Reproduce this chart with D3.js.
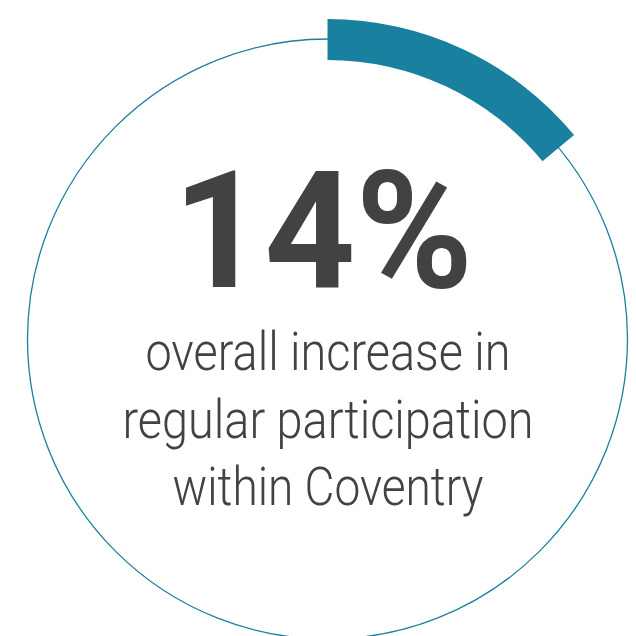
<!DOCTYPE html>
<html>
<head>
<meta charset="utf-8">
<script src="https://cdn.jsdelivr.net/npm/d3@7"></script>
<style>
  html, body { margin: 0; padding: 0; background: #ffffff; }
  svg { display: block; }
</style>
</head>
<body>
<div id="chart"></div>
<script>
// Headline figure and its caption
const percentValue = 14;
const percentLabel = "14%";
const captionLines = ["overall increase in", "regular participation", "within Coventry"];
const captionWidths = [365, 411, 311];

const width = 636, height = 636;
const cx = 327.5, cy = 339;
const ringRadius = 300;
const bandInner = 279, bandOuter = 320;
const teal = "#1a80a0";
const textColor = "#424242";

const svg = d3.select("#chart").append("svg")
  .attr("width", width)
  .attr("height", height);

const g = svg.append("g").attr("transform", `translate(${cx},${cy})`);

// Percentage -> angle around the ring, starting at 12 o'clock
const angle = d3.scaleLinear().domain([0, 100]).range([0, 2 * Math.PI]);

// Thin full ring
g.append("circle")
  .attr("r", ringRadius)
  .attr("fill", "none")
  .attr("stroke", teal)
  .attr("stroke-width", 1.3);

// Thick progress band
const arc = d3.arc()
  .innerRadius(bandInner)
  .outerRadius(bandOuter)
  .startAngle(angle(0))
  .endAngle(angle(percentValue));

g.append("path")
  .attr("d", arc())
  .attr("fill", teal);

// Big number
svg.append("text")
  .attr("x", 323)
  .attr("y", 287)
  .attr("text-anchor", "middle")
  .attr("font-family", "Roboto, 'Liberation Sans Narrow', sans-serif")
  .attr("font-weight", 700)
  .attr("font-size", 164)
  .attr("textLength", 300)
  .attr("lengthAdjust", "spacingAndGlyphs")
  .attr("fill", textColor)
  .text(percentLabel);

// Caption lines
const baselines = [370, 437.5, 505];
svg.selectAll("text.caption")
  .data(captionLines)
  .join("text")
  .attr("class", "caption")
  .attr("x", 328)
  .attr("y", (d, i) => baselines[i])
  .attr("text-anchor", "middle")
  .attr("font-family", "Roboto, sans-serif")
  .attr("font-weight", 300)
  .attr("font-size", 53)
  .attr("textLength", (d, i) => captionWidths[i])
  .attr("lengthAdjust", "spacingAndGlyphs")
  .attr("fill", textColor)
  .text(d => d);
</script>
</body>
</html>
